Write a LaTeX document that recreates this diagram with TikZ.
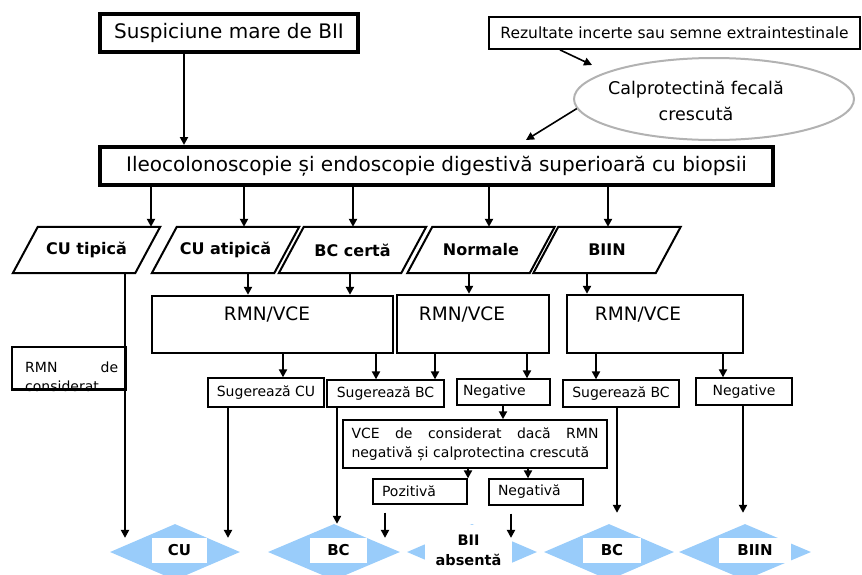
\documentclass[tikz,border=0pt]{standalone}
\usepackage{fontspec}
\setmainfont{DejaVu Sans}
\usetikzlibrary{shapes.geometric,arrows.meta}
\definecolor{dblue}{RGB}{153,204,250}
\newcommand\fBig{\fontsize{20}{24}\selectfont}
\newcommand\fRez{\fontsize{15.5}{19}\selectfont}
\newcommand\fCal{\fontsize{17.5}{26}\selectfont}
\newcommand\fSm{\fontsize{14}{19}\selectfont}
\newcommand\fBd{\fontsize{16}{19}\selectfont\bfseries}
\newcommand\fRmn{\fontsize{18.5}{22}\selectfont}
\newcommand\fDia{\fontsize{15}{20}\selectfont\bfseries}
\newcommand\fDib{\fontsize{14.5}{20}\selectfont\bfseries}
\begin{document}
\begin{tikzpicture}[x=1pt,y=-1pt,
  arr/.style={line width=2pt,-{Triangle[length=8pt,width=8pt]}},
  bigbox/.style={draw,line width=4pt,inner sep=0pt,font=\fBig},
  parabox/.style={inner sep=0pt,minimum width=122pt,minimum height=46pt,font=\fBd},
  paraline/.style={line width=2pt,line join=miter},
  rmnbox/.style={draw,line width=2.4pt,inner sep=0pt},
  rmntext/.style={inner sep=0pt,font=\fRmn},
  resbox/.style={draw,line width=1.3pt,inner sep=0pt,font=\fSm},
  dia/.style={diamond,fill=dblue,inner sep=0pt,minimum width=130pt,minimum height=56pt},
  dlab/.style={fill=white,inner sep=0pt,minimum height=25pt,font=\fDia}
]
\useasboundingbox (0,0) rectangle (862,574);
\clip (0,0) rectangle (862,574);

% diamonds
\node[dia] (d1) at (175,552) {};
\node[dia,minimum width=132pt] (d2) at (334,552) {};
\node[dia] (d3) at (472,552) {};
\node[dia] (d4) at (609,552) {};
\node[dia,minimum width=132pt] (d5) at (745,552) {};
\node[dlab,minimum width=55pt] (l1) at (179.5,550.5) {CU};
\node[dlab,minimum width=57pt] (l2) at (338.5,550.5) {BC};
\node[fill=white,inner sep=0pt,minimum width=87pt,minimum height=50pt,font=\fDib,align=center] (l3) at (468.5,550) {BII\\absentă};
\node[dlab,minimum width=58pt] (l4) at (612,550) {BC};
\node[dlab,minimum width=72pt] (l5) at (755,550) {BIIN};

% top
\node[bigbox,minimum width=258pt,minimum height=38pt] (sus) at (229,33) {Suspiciune mare de BII};
\node[draw,line width=1.8pt,inner sep=0pt,minimum width=371pt,minimum height=32pt,font=\fRez] (rez) at (674.5,33) {Rezultate incerte sau semne extraintestinale};
\node[ellipse,draw=black!30,line width=2pt,inner sep=0pt,minimum width=280pt,minimum height=82pt] (cal) at (714,99) {};
\node[font=\fCal,align=center,inner sep=0pt] (calt) at (696,101) {Calprotectină fecală\\crescută};
\node[bigbox,minimum width=673pt,minimum height=38pt] (ileo) at (436.5,166) {Ileocolonoscopie și endoscopie digestivă superioară cu biopsii};
\coordinate (c1) at (592,65);
\coordinate (c2) at (526,140);

% parallelograms
\node[parabox] (p1) at (86.5,250) {CU tipică};
\node[parabox] (p2) at (225.5,250) {CU atipică};
\node[parabox] (p3) at (352.5,250) {BC certă};
\node[parabox] (p4) at (481,250) {Normale};
\node[parabox] (p5) at (607,250) {BIIN};
\foreach \n in {p1,p2,p3,p4,p5}
  \draw[paraline] ([xshift=12.5pt]\n.north west) -- ([xshift=12.5pt]\n.north east)
     -- ([xshift=-12.5pt]\n.south east) -- ([xshift=-12.5pt]\n.south west) -- cycle;

% RMN/VCE boxes
\node[rmnbox,minimum width=241pt,minimum height=57pt] (b1) at (272.5,324.5) {};
\node[rmnbox,minimum width=152pt,minimum height=58pt] (b2) at (473,324) {};
\node[rmnbox,minimum width=176pt,minimum height=58pt] (b3) at (655,324) {};
\node[rmntext] (b1t) at (267,314) {RMN/VCE};
\node[rmntext] (b2t) at (462,314) {RMN/VCE};
\node[rmntext] (b3t) at (638,314) {RMN/VCE};

% RMN de considerat
\node[draw,line width=1.4pt,inner sep=0pt,minimum width=114pt,minimum height=42pt] (rmn) at (69,368) {};
\draw[line width=3pt] (rmn.south west) -- (rmn.south east);
\node[anchor=north west,inner sep=0pt,text width=93pt,align=left,font=\fSm] (rmnt) at (25,361.5) {RMN\hfill de\\considerat};

% result boxes
\node[resbox,minimum width=116pt,minimum height=29pt] (r1) at (266,392.5) {Sugerează CU};
\node[resbox,minimum width=117pt,minimum height=27pt] (r2) at (385.5,393.5) {Sugerează BC};
\node[resbox,minimum width=93pt,minimum height=26pt,inner xsep=6pt,text width=81pt,align=left] (r3) at (503.5,392) {Negative};
\node[resbox,minimum width=116pt,minimum height=27pt] (r4) at (621,393.5) {Sugerează BC};
\node[resbox,minimum width=96pt,minimum height=27pt] (r5) at (744,391.5) {Negative};

\node[draw,line width=1.5pt,inner sep=0pt,inner xsep=8.5pt,text width=247pt,align=left,minimum height=48pt,font=\fSm] (vce) at (475,444)
  {VCE\hfill de\hfill considerat\hfill dacă\hfill RMN\\negativă și calprotectina crescută};
\node[resbox,minimum width=94pt,minimum height=25pt,inner xsep=9pt,text width=76pt,align=left] (pos) at (420,491.5) {Pozitivă};
\node[resbox,minimum width=94pt,minimum height=26pt,inner xsep=9pt,text width=76pt,align=left] (neg) at (536,492) {Negativă};

% connectors
\draw[arr] (184,0 |- sus.south) -- (184,0 |- ileo.north);
\draw[arr,line width=1.6pt] (560,0 |- rez.south) -- (c1);
\draw[arr,line width=1.6pt] (cal.184) -- (c2);
\foreach \x/\p in {151/p1,244/p2,353/p3,489/p4,608/p5}
  \draw[arr] (\x,0 |- ileo.south) -- (\x,0 |- \p.north);
\draw[arr] (248,0 |- p2.south) -- (248,0 |- b1.north);
\draw[arr] (350,0 |- p3.south) -- (350,0 |- b1.north);
\draw[arr] (469,0 |- p4.south) -- (469,0 |- b2.north);
\draw[arr] (587,0 |- p5.south) -- (587,0 |- b3.north);
\draw[arr] (283,0 |- b1.south) -- (283,0 |- r1.north);
\draw[arr] (376,0 |- b1.south) -- (376,0 |- r2.north);
\draw[arr] (435,0 |- b2.south) -- (435,0 |- r2.north);
\draw[arr] (527,0 |- b2.south) -- (527,0 |- r3.north);
\draw[arr] (596,0 |- b3.south) -- (596,0 |- r4.north);
\draw[arr] (723,0 |- b3.south) -- (723,0 |- r5.north);
\draw[arr] (125,0 |- p1.south) -- (125,0 |- d1.north west);
\draw[arr] (228,0 |- r1.south) -- (228,0 |- d1.north east);
\draw[arr] (337,0 |- r2.south) -- (337,0 |- d2.north);
\draw[arr] (503,0 |- r3.south) -- (503,0 |- vce.north);
\draw[arr] (468,0 |- vce.south) -- (468,0 |- pos.north);
\draw[arr] (528,0 |- vce.south) -- (528,0 |- neg.north);
\draw[arr,shorten <=8pt] (385,0 |- pos.south) -- (385,0 |- d2.north east);
\draw[arr,shorten <=8pt] (511,0 |- neg.south) -- (511,0 |- d3.north east);
\draw[arr,shorten >=11pt] (617,0 |- r4.south) -- (617,0 |- d4.north);
\draw[arr,shorten >=11pt] (743,0 |- r5.south) -- (743,0 |- d5.north);
\end{tikzpicture}
\end{document}
